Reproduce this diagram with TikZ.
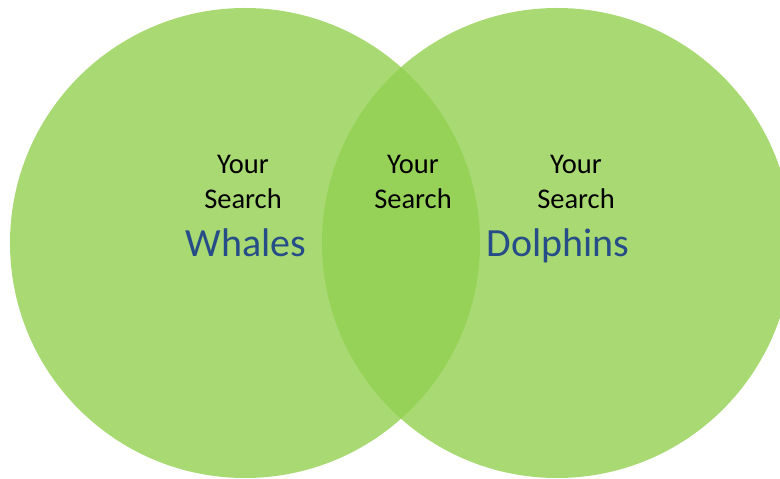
\documentclass[tikz,border=0pt]{standalone}
\usepackage{fontspec}
\setmainfont{Carlito}
\usepackage{tikz}
\usetikzlibrary{positioning}

\definecolor{setgreen}{HTML}{92D050}
\definecolor{termblue}{HTML}{264D87}

\begin{document}
\begin{tikzpicture}[x=1pt,y=1pt]
        % Define styles
        \tikzset{
            setcircle/.style={circle, fill=setgreen, fill opacity=0.8, minimum size=470pt, inner sep=0pt},
            search/.style={align=center, font=\fontsize{28.5}{35}\selectfont, text=black},
            term/.style={anchor=base, font=\fontsize{40}{44}\selectfont, text=termblue}
        }
        \useasboundingbox (0,0) rectangle (780,479);
        \clip (0,0) rectangle (780,479);
        % The two sets
        \node[setcircle] (whales) at (245,236) {};
        \node[setcircle] (dolphins) at (557,236) {};
        % "Your Search" labels
        \node[search] (leftsearch) at (243,297) {Your\\Search};
        \node[search] (midsearch) at (413,297) {Your\\Search};
        \node[search] (rightsearch) at (576,297) {Your\\Search};
        % Search terms
        \node[term] (whalesterm) at (246,222) {Whales};
        \node[term] (dolphinsterm) at (558,222) {Dolphins};
    \end{tikzpicture}
\end{document}
